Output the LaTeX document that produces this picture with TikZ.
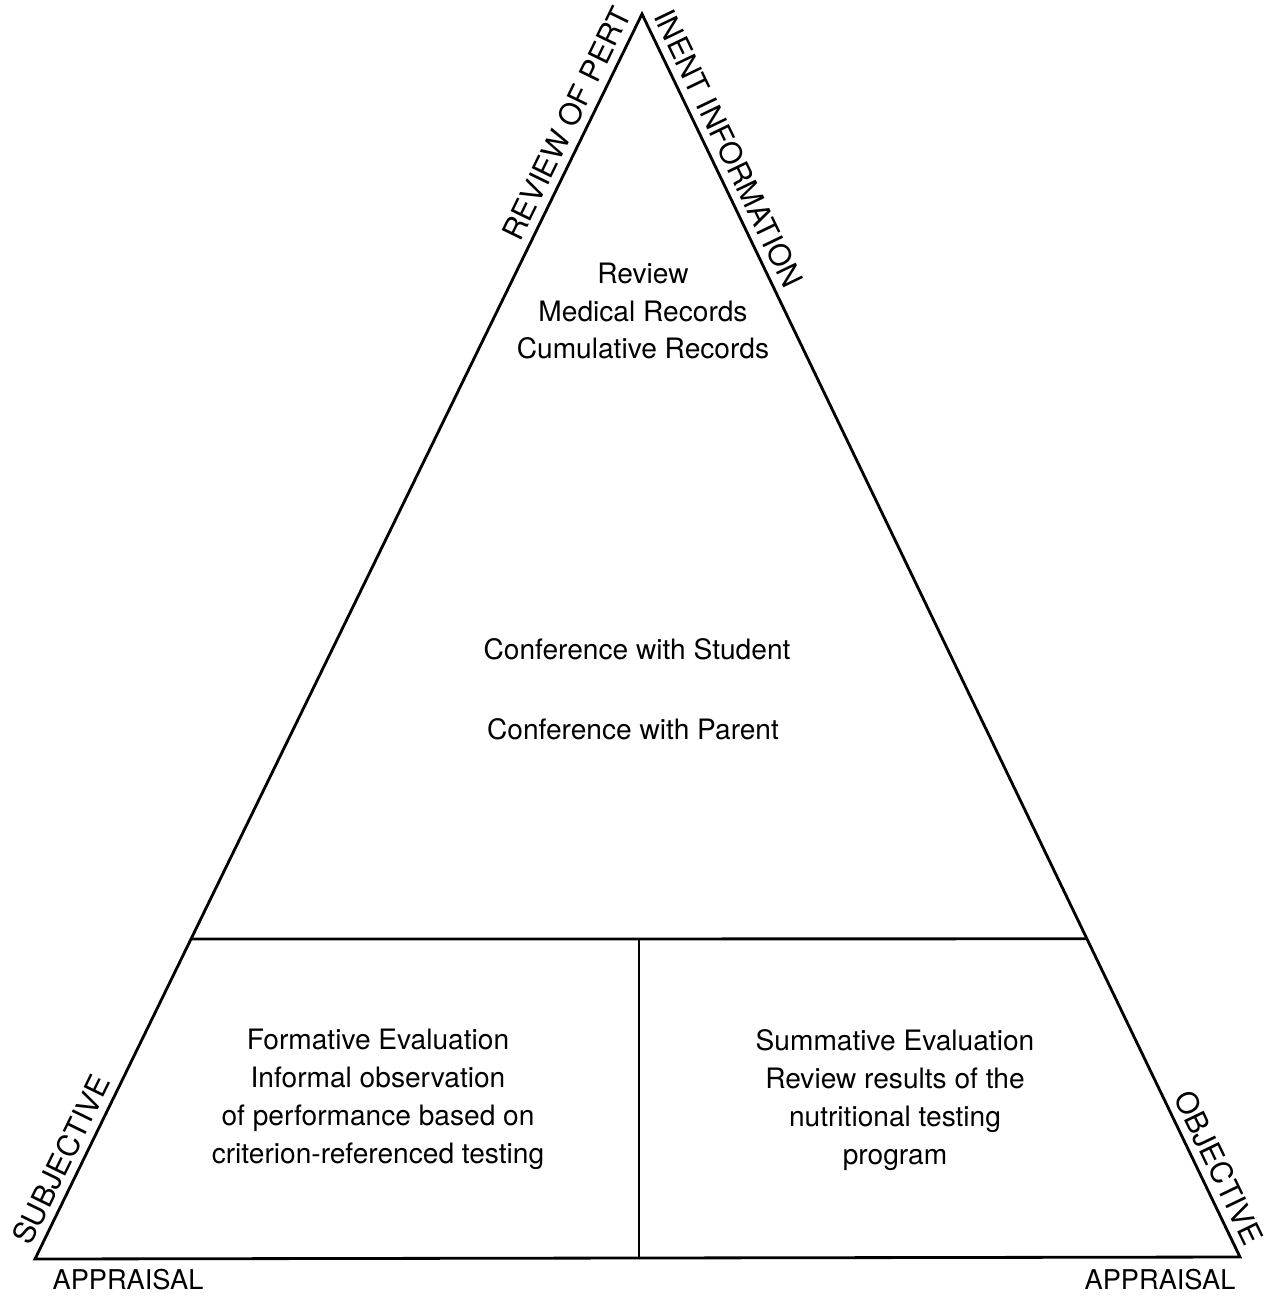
\documentclass[tikz,border=0pt]{standalone}
\usepackage{fontspec}
\setmainfont{TeX Gyre Heros}
\usetikzlibrary{calc,positioning}
\tikzset{
    frame line/.style={line width=1.6pt, line join=miter},
    box text/.style={align=center, inner sep=0pt, font=\fontsize{16}{21.6}\selectfont},
    side label/.style={sloped, above, inner sep=4pt, font=\fontsize{17}{20}\selectfont},
    base label/.style={inner sep=0pt, font=\fontsize{15.5}{19}\selectfont},
}

\begin{document}
\begin{tikzpicture}[x=0.02cm,y=-0.02cm]
    \useasboundingbox (0,0) rectangle (1277,1296);

    % corners of the pyramid
    \coordinate (A) at (642,14);
    \coordinate (BL) at (35,1259);
    \coordinate (BR) at (1240,1257);
    \coordinate (ML) at ($(BL)!.257!(A)$);
    \coordinate (MR) at ($(BR)!.256!(A)$);
    \coordinate (MT) at ($(ML)!.5!(MR)$);
    \coordinate (MB) at (MT |- BL);

    \draw[frame line]
    (BL) -- (A)
    node[side label, pos=.905] {REVIEW OF PERT}
    node[side label, pos=.073] {SUBJECTIVE}
    -- (BR)
    node[side label, pos=.115] {INENT INFORMATION}
    node[side label, pos=.935] {OBJECTIVE}
    -- cycle;

    \draw[frame line] (ML) -- (MR);
    \draw[frame line] (MT) -- (MB);

    \node[base label] (appleft) at (128,1280) {APPRAISAL};
    \node[base label] (appright) at (1160,1280) {APPRAISAL};

    \node[box text] (review) at (643,311)
    {Review\\Medical Records\\Cumulative Records};
    \node[box text] (student) at (637,649) {Conference with Student};
    \node[box text] (parent) at (633,729) {Conference with Parent};
    \node[box text] (formative) at (378,1099)
    {Formative Evaluation\\Informal observation\\of performance based on\\criterion-referenced testing};
    \node[box text] (summative) at (895,1100)
    {Summative Evaluation\\Review results of the\\nutritional testing\\program};
\end{tikzpicture}
\end{document}
